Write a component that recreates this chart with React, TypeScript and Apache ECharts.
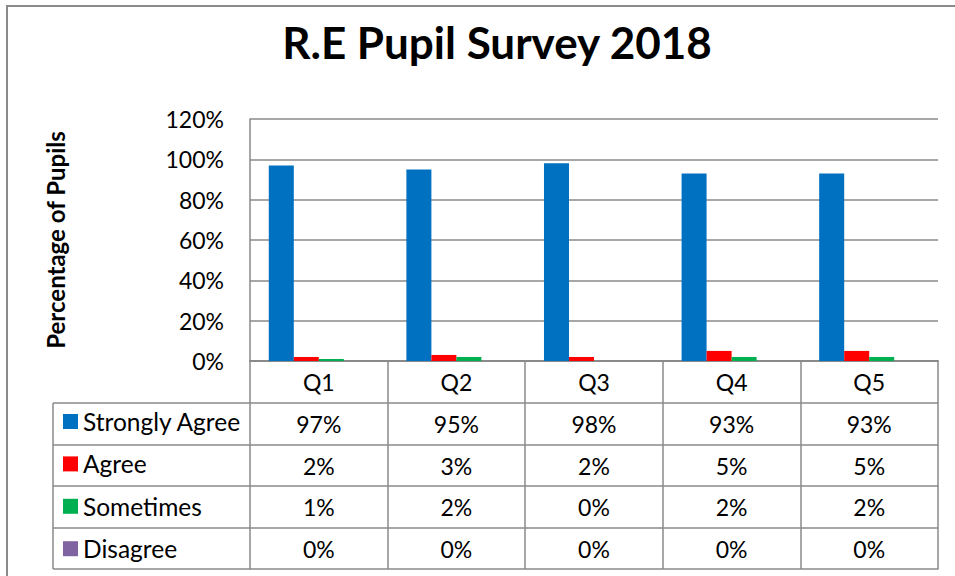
import React, { useEffect, useRef } from "react";
import * as echarts from "echarts";

const categories = ["Q1", "Q2", "Q3", "Q4", "Q5"];
const seriesNames = ["Strongly Agree", "Agree", "Sometimes", "Disagree"];
const stronglyAgree = [0.97, 0.95, 0.98, 0.93, 0.93];
const agree = [0.02, 0.03, 0.02, 0.05, 0.05];
const sometimes = [0.01, 0.02, 0.0, 0.02, 0.02];
const disagree = [0, 0, 0, 0, 0];
const seriesValues = [stronglyAgree, agree, sometimes, disagree];
const seriesColors = ["#0070C0", "#FF0000", "#00B050", "#8064A2"];
const yTicks = [0, 0.2, 0.4, 0.6, 0.8, 1.0, 1.2];

const FONT = "Lato";
const GRAY = "#8a8a8a";
const pct = (v: number) => Math.round(v * 100) + "%";

export default function App() {
  const ref = useRef<HTMLDivElement>(null);
  useEffect(() => {
    if (!ref.current) return;
    const chart = echarts.init(ref.current, undefined, { renderer: "svg" });

    const gridLeft = 250;
    const gridTop = 119;
    const gridBottomY = 361;
    const rowBounds = [361, 403, 445, 486, 528, 569];

    const rowAxes = seriesValues.map((vals, k) => ({
      type: "category",
      gridIndex: 0,
      position: "bottom",
      offset: rowBounds[k + 1] - gridBottomY,
      data: categories,
      boundaryGap: true,
      axisLine: { show: true, lineStyle: { color: GRAY, width: 1.5 } },
      axisTick: {
        show: true,
        interval: 0,
        alignWithLabel: false,
        length: rowBounds[k + 2] - rowBounds[k + 1],
        lineStyle: { color: GRAY, width: 1.5 },
      },
      axisLabel: {
        show: true,
        interval: 0,
        margin: 9,
        fontSize: 23,
        lineHeight: 23,
        fontFamily: FONT,
        color: "#000",
        formatter: (_v: string, i: number) => pct(vals[i]),
      },
      splitLine: { show: false },
    }));

    const bottomLineAxis = {
      type: "category",
      gridIndex: 0,
      position: "bottom",
      offset: rowBounds[5] - gridBottomY,
      data: categories,
      axisLine: { show: true, lineStyle: { color: GRAY, width: 1.5 } },
      axisTick: { show: false },
      axisLabel: { show: false },
      splitLine: { show: false },
    };

    const legendLines: any[] = rowBounds.slice(1).map((y) => ({
      type: "line",
      shape: { x1: 53, y1: y, x2: gridLeft, y2: y },
      style: { stroke: GRAY, lineWidth: 1.5 },
    }));
    legendLines.push({
      type: "line",
      shape: { x1: 53, y1: rowBounds[1], x2: 53, y2: rowBounds[5] },
      style: { stroke: GRAY, lineWidth: 1.5 },
    });

    chart.setOption({
      animation: false,
      backgroundColor: "#ffffff",
      title: {
        text: "R.E Pupil Survey 2018",
        left: 492,
        top: 15,
        textAlign: "center",
        textStyle: { fontFamily: FONT, fontWeight: "bold", fontSize: 44, color: "#000" },
      },
      legend: {
        orient: "vertical",
        left: 63,
        top: 409,
        padding: 0,
        itemWidth: 15,
        itemHeight: 15,
        itemGap: 17.4,
        icon: "rect",
        selectedMode: false,
        data: seriesNames,
        textStyle: { fontFamily: FONT, fontSize: 24.5, lineHeight: 24, color: "#000", padding: [0, 0, 0, 0] },
      },
      grid: {
        left: gridLeft,
        top: gridTop,
        width: 688,
        height: gridBottomY - gridTop,
        containLabel: false,
      },
      xAxis: [
        {
          type: "category",
          data: categories,
          boundaryGap: true,
          axisLine: { show: true, lineStyle: { color: GRAY, width: 2 } },
          axisTick: {
            show: true,
            interval: 0,
            alignWithLabel: false,
            length: rowBounds[1] - rowBounds[0],
            lineStyle: { color: GRAY, width: 1.5 },
          },
          axisLabel: {
            interval: 0,
            margin: 9,
            fontSize: 23,
            lineHeight: 23,
            fontFamily: FONT,
            color: "#000",
          },
          splitLine: { show: false },
        },
        ...rowAxes,
        bottomLineAxis,
      ],
      yAxis: {
        type: "value",
        min: yTicks[0],
        max: yTicks[yTicks.length - 1],
        interval: 0.2,
        name: "Percentage of Pupils",
        nameLocation: "middle",
        nameRotate: 90,
        nameGap: 183,
        nameTextStyle: { fontFamily: FONT, fontWeight: "bold", fontSize: 24, color: "#000" },
        axisLine: { show: true, lineStyle: { color: GRAY, width: 1.5 } },
        axisTick: { show: false },
        axisLabel: {
          margin: 26,
          fontSize: 23,
          fontFamily: FONT,
          color: "#000",
          formatter: (v: number) => pct(v),
        },
        splitLine: { show: true, lineStyle: { color: GRAY, width: 1.5 } },
      },
      series: seriesNames.map((name, i) => ({
        name,
        type: "bar",
        xAxisIndex: 0,
        data: seriesValues[i],
        barGap: "0%",
        barCategoryGap: "27.3%",
        itemStyle: { color: seriesColors[i] },
      })),
      graphic: [
        {
          type: "rect",
          z: -1,
          shape: { x: 7, y: 6, width: 980, height: 620 },
          style: { fill: "none", stroke: GRAY, lineWidth: 2 },
        },
        ...legendLines,
      ],
    });
    return () => chart.dispose();
  }, []);
  return (
    <div
      ref={ref}
      style={{ position: "absolute", left: 0, top: 0, width: 955, height: 576 }}
    />
  );
}
